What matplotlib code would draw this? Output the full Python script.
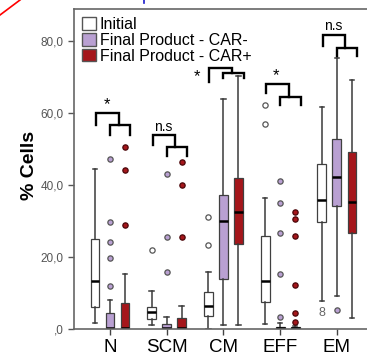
import matplotlib
matplotlib.use('Agg')
import matplotlib.pyplot as plt
from matplotlib.patches import Patch
from matplotlib.lines import Line2D

plt.rcParams['font.family'] = ['Liberation Sans', 'DejaVu Sans']

# Данные (% клеток)
groups = ['N', 'SCM', 'CM', 'EFF', 'EM']
series = ['Initial', 'Final Product - CAR-', 'Final Product - CAR+']
colors = ['white', '#b9a0d2', '#a5161b']
edge_fl = ['#555555', '#555555', '#4a0508']

init_q1 = [6.2, 2.8, 3.6, 7.6, 29.6]
init_med = [13.3, 4.8, 6.4, 13.4, 35.8]
init_q3 = [25.0, 6.1, 10.4, 25.8, 45.8]
init_lo = [1.6, 1.1, 0.0, 1.3, 7.9]
init_hi = [44.4, 10.5, 15.7, 36.5, 61.6]
init_fl = [[], [21.9], [31.0, 23.3], [62.3, 56.9], []]

neg_q1 = [0.0, 0.0, 13.8, 0.0, 34.3]
neg_med = [0.4, 0.3, 30.1, 0.3, 42.1]
neg_q3 = [4.4, 1.5, 37.1, 0.6, 52.9]
neg_lo = [0.0, 0.0, 1.1, 0.0, 9.3]
neg_hi = [8.1, 3.4, 63.9, 1.6, 75.2]
neg_fl = [[47.1, 29.8, 24.3, 19.7, 12.0], [43.0, 25.6, 15.9], [],
          [41.2, 35.1, 26.7, 15.2, 3.4], [5.3]]

pos_q1 = [0.0, 0.0, 23.5, 0.0, 26.8]
pos_med = [0.3, 0.3, 32.4, 0.2, 35.4]
pos_q3 = [7.3, 3.0, 41.9, 0.5, 49.1]
pos_lo = [0.0, 0.0, 1.1, 0.0, 3.0]
pos_hi = [15.2, 6.3, 70.3, 0.9, 69.1]
pos_fl = [[50.5, 44.1, 28.8], [46.4, 39.9, 25.6], [],
          [32.4, 30.5, 25.9, 12.2, 4.5, 1.9], []]

# Метка случая у EM (Initial)
case_label = '8'
case_value = 4.4

# Значимость и высоты скобок
sig = ['*', 'n.s', '*', '*', 'n.s']
br1_top = [59.9, 53.9, 72.4, 68.2, 81.7]
br1_leg = [56.7, 51.0, 68.7, 65.5, 78.6]
br2_top = [56.7, 50.6, 71.0, 64.5, 78.0]
br2_leg = [53.9, 48.1, 69.6, 62.2, 75.8]
sig_y = [62.2, 56.2, 70.1, 70.3, 84.2]
sig_dx = [-0.05, -0.06, -0.47, -0.07, -0.06]

yticks = [0, 20, 40, 60, 80]
ytick_labels = [',0', '20,0', '40,0', '60,0', '80,0']

fig = plt.figure(figsize=(3.67, 3.52), dpi=100)
ax = fig.add_axes([74 / 367, 23 / 352, 306 / 367, 320 / 352])

offsets = [-0.265, 0.0, 0.265]
all_data = [
    (init_q1, init_med, init_q3, init_lo, init_hi, init_fl),
    (neg_q1, neg_med, neg_q3, neg_lo, neg_hi, neg_fl),
    (pos_q1, pos_med, pos_q3, pos_lo, pos_hi, pos_fl),
]

for k, (q1, med, q3, lo, hi, fl) in enumerate(all_data):
    stats = []
    for i in range(len(groups)):
        stats.append(dict(q1=q1[i], med=med[i], q3=q3[i],
                          whislo=lo[i], whishi=hi[i], fliers=fl[i]))
    pos = [i + offsets[k] for i in range(len(groups))]
    ax.bxp(stats, positions=pos, widths=0.155, capwidths=0.08,
           patch_artist=True, manage_ticks=False,
           boxprops=dict(facecolor=colors[k], edgecolor='#404040', linewidth=0.9),
           medianprops=dict(color='black', linewidth=1.8),
           whiskerprops=dict(color='#3a3a3a', linewidth=1.1),
           capprops=dict(color='#3a3a3a', linewidth=1.1),
           flierprops=dict(marker='o', markersize=3.8, markerfacecolor=colors[k],
                           markeredgecolor=edge_fl[k], markeredgewidth=0.9))

ax.text(4 + offsets[0], case_value, case_label, ha='center', va='center',
        fontsize=9, color='#666666')

# Скобки значимости
for i in range(len(groups)):
    a, b = i - 0.25, i + 0.15
    c, d = i + 0.0, i + 0.36
    ax.plot([a, a, b, b], [br1_leg[i], br1_top[i], br1_top[i], br2_top[i]],
            color='black', lw=1.7, solid_joinstyle='miter')
    ax.plot([c, c, d, d], [br2_leg[i], br2_top[i], br2_top[i], br2_leg[i]],
            color='black', lw=1.7, solid_joinstyle='miter')
    ax.text(i + sig_dx[i], sig_y[i], sig[i], ha='center', va='center',
            fontsize=12 if sig[i] == '*' else 10)

ax.set_xlim(-0.635, 4.76)
ax.set_ylim(0, 88.9)
ax.set_xticks(range(len(groups)))
ax.set_xticklabels(groups, fontsize=13.5)
ax.set_yticks(yticks)
ax.set_yticklabels(ytick_labels, fontsize=8.5, color='#555555')
ax.tick_params(axis='y', length=4, color='#555555', width=1)
ax.tick_params(axis='x', length=4, color='#444444', width=1, pad=3)
for s in ['top', 'left', 'bottom']:
    ax.spines[s].set_color('#666666')
    ax.spines[s].set_linewidth(1.2)
ax.spines['right'].set_visible(False)

ax.set_ylabel('% Cells', fontsize=14, fontweight='bold')
ax.yaxis.set_label_coords(-0.118, 0.51)

handles = [Patch(facecolor=colors[k], edgecolor='#555555', linewidth=1)
           for k in range(3)]
ax.legend(handles, series, loc='upper left', bbox_to_anchor=(0.0, 1.0),
          frameon=False, fontsize=11.5, handlelength=0.9, handleheight=0.85,
          handletextpad=0.2, labelspacing=0.05, borderaxespad=0.2,
          borderpad=0.3)

# Остатки обрезки исходного изображения
fig.add_artist(Line2D([0, 20 / 367], [1 - 15 / 352, 1], color='red', lw=1.2))
fig.add_artist(Line2D([144 / 367, 144 / 367], [1 - 3 / 352, 1], color='#1a1acc', lw=1.2))

fig.savefig('out.png', dpi=100)
